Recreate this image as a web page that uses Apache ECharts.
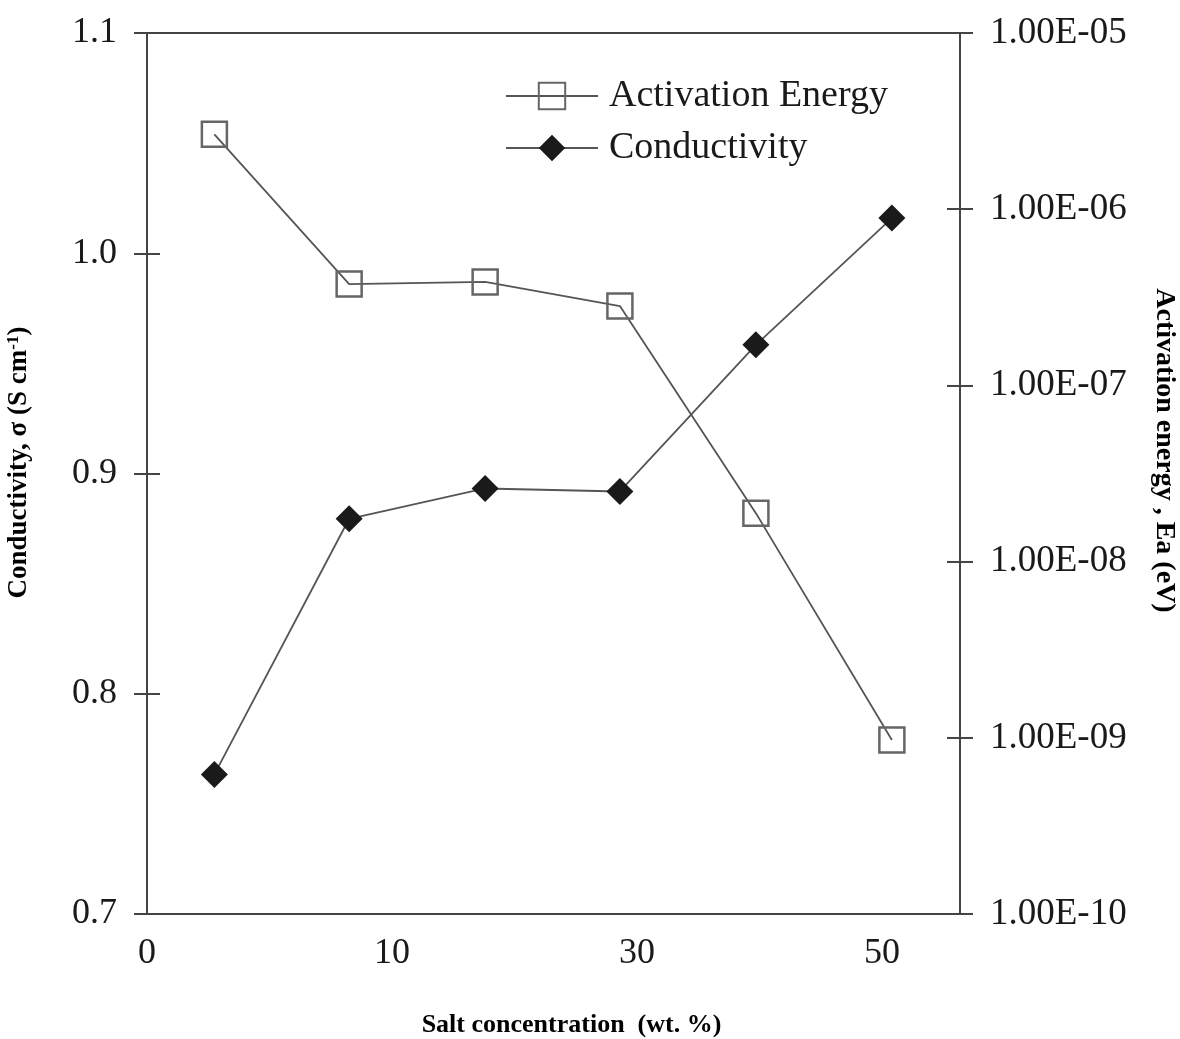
<!DOCTYPE html>
<html>
<head>
<meta charset="utf-8">
<script src="https://cdn.jsdelivr.net/npm/echarts@6/dist/echarts.min.js"></script>
<style>
  html, body { margin: 0; padding: 0; background: #fff; }
  #chart { width: 1180px; height: 1039px; }
</style>
</head>
<body>
<div id="chart"></div>
<script>
// Tick labels on the x axis (evenly spaced in the original figure)
const xTickLabels = ['0', '10', '30', '50'];
// Sample positions along the x axis, in units of the tick spacing above
const xPositions = [0.275, 0.825, 1.38, 1.93, 2.485, 3.04];

// Activation energy (left axis)
const activationEnergy = [1.054, 0.986, 0.987, 0.976, 0.882, 0.779];
// Conductivity (right log axis)
const conductivity = [6.2e-10, 1.75e-8, 2.6e-8, 2.5e-8, 1.7e-7, 8.9e-7];

const serif = '"Liberation Serif", "DejaVu Serif", serif';
const textColor = '#1a1a1a';
const axisColor = '#444';

function pair(xs, ys) {
    return xs.map((x, i) => [x, ys[i]]);
}

function expLabel(v) {
    const e = Math.round(Math.log10(v));
    const sign = e < 0 ? '-' : '+';
    const abs = Math.abs(e);
    return '1.00E' + sign + (abs < 10 ? '0' + abs : abs);
}

// Scale settings shared by the visible axis and its inner-tick twin
const leftScale = { type: 'value', min: 0.7, max: 1.1, interval: 0.1 };
const rightScale = { type: 'log', logBase: 10, min: 1e-10, max: 1e-5 };

function innerTicks(scale, position) {
    return Object.assign({}, scale, {
        position: position,
        axisLine: { show: false },
        axisTick: { show: true, inside: true, length: 13, lineStyle: { color: axisColor, width: 2 } },
        minorTick: { show: false },
        axisLabel: { show: false },
        splitLine: { show: false }
    });
}

document.addEventListener('DOMContentLoaded', function() {
    const chart = echarts.init(document.getElementById('chart'));

    const option = {
        backgroundColor: '#fff',
        animation: false,
        textStyle: { fontFamily: serif },
        grid: {
            left: 147,
            right: 220,
            top: 33,
            bottom: 125,
            outerBoundsMode: 'none',
            containLabel: false,
            show: true,
            borderColor: axisColor,
            borderWidth: 2
        },
        legend: {
            left: 500,
            top: 72,
            orient: 'vertical',
            itemWidth: 92,
            itemHeight: 33,
            itemGap: 14,
            textStyle: { fontFamily: serif, fontSize: 38, color: textColor, padding: [0, 0, 0, 6] },
            data: ['Activation Energy', 'Conductivity']
        },
        xAxis: {
            type: 'value',
            min: 0,
            max: 3.318,
            interval: 1,
            name: 'Salt concentration  (wt. %)',
            nameLocation: 'middle',
            nameGap: 98,
            nameTextStyle: { fontFamily: serif, fontSize: 26, fontWeight: 'bold', color: '#000', padding: [0, 0, 0, 36] },
            axisLine: { lineStyle: { color: axisColor, width: 2 } },
            axisTick: { show: false },
            splitLine: { show: false },
            axisLabel: {
                margin: 22,
                fontFamily: serif,
                fontSize: 36,
                color: textColor,
                formatter: function(v) {
                    const r = Math.round(v);
                    return Math.abs(v - r) < 1e-6 && xTickLabels[r] !== undefined ? xTickLabels[r] : '';
                }
            }
        },
        yAxis: [
            Object.assign({}, leftScale, {
                position: 'left',
                name: 'Conductivity, σ (S cm{sup|-1})',
                nameLocation: 'middle',
                nameGap: 113,
                nameTextStyle: {
                    fontFamily: serif, fontSize: 27, fontWeight: 'bold', color: '#000',
                    padding: [0, 0, 0, 22],
                    rich: {
                        sup: { fontFamily: serif, fontSize: 17, fontWeight: 'bold', color: '#000', verticalAlign: 'top', padding: [0, 0, 12, 0] }
                    }
                },
                axisLine: { show: true, lineStyle: { color: axisColor, width: 2 } },
                axisTick: { show: true, inside: false, length: 13, lineStyle: { color: axisColor, width: 2 } },
                splitLine: { show: false },
                axisLabel: {
                    margin: 30,
                    fontFamily: serif,
                    fontSize: 36,
                    color: textColor,
                    formatter: v => v.toFixed(1)
                }
            }),
            Object.assign({}, rightScale, {
                position: 'right',
                name: 'Activation energy , Ea (eV)',
                nameLocation: 'middle',
                nameRotate: -90,
                nameGap: 190,
                nameTextStyle: { fontFamily: serif, fontSize: 28, fontWeight: 'bold', color: '#000', padding: [0, 46, 0, 0] },
                axisLine: { show: true, lineStyle: { color: axisColor, width: 2 } },
                axisTick: { show: true, inside: false, length: 13, lineStyle: { color: axisColor, width: 2 } },
                minorTick: { show: false },
                splitLine: { show: false },
                axisLabel: {
                    margin: 30,
                    fontFamily: serif,
                    fontSize: 37,
                    color: textColor,
                    formatter: expLabel
                }
            }),
            innerTicks(leftScale, 'left'),
            innerTicks(rightScale, 'right')
        ],
        series: [
            {
                name: 'Activation Energy',
                type: 'line',
                yAxisIndex: 0,
                data: pair(xPositions, activationEnergy),
                symbol: 'rect',
                symbolSize: 25,
                z: 3,
                lineStyle: { color: '#555', width: 1.8 },
                itemStyle: { color: 'rgba(255,255,255,0)', borderColor: '#666', borderWidth: 2.5 }
            },
            {
                name: 'Conductivity',
                type: 'line',
                yAxisIndex: 1,
                data: pair(xPositions, conductivity),
                symbol: 'diamond',
                symbolSize: 27,
                z: 2,
                lineStyle: { color: '#555', width: 1.8 },
                itemStyle: { color: '#1a1a1a', borderColor: '#1a1a1a', borderWidth: 0 }
            }
        ]
    };

    chart.setOption(option);

    window.addEventListener('resize', function() {
        chart.resize();
    });
});
</script>
</body>
</html>
